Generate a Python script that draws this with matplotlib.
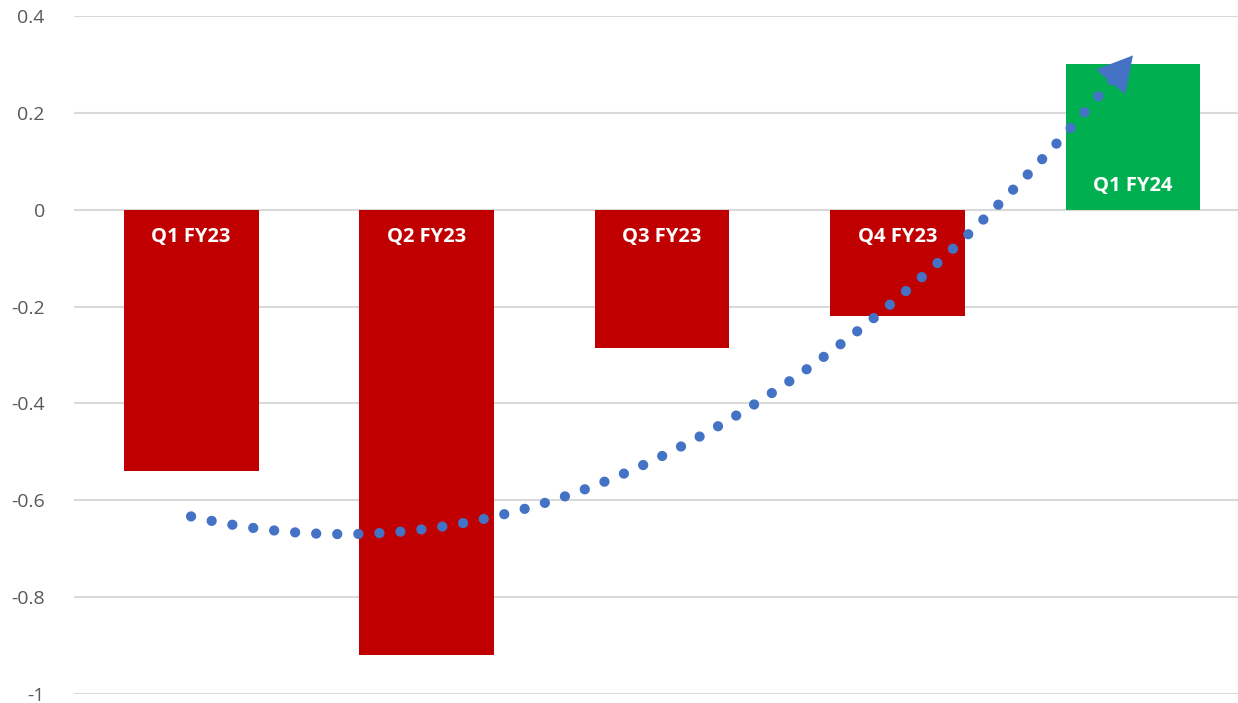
"""
Quarterly result bars with a quadratic trend arrow.
"""

import numpy as np
import matplotlib

matplotlib.use("Agg")
import matplotlib.pyplot as plt
from matplotlib.patches import FancyArrowPatch

quarters = ["Q1 FY23", "Q2 FY23", "Q3 FY23", "Q4 FY23", "Q1 FY24"]
values = [-0.54, -0.92, -0.285, -0.22, 0.30]
y_ticks = [-1, -0.8, -0.6, -0.4, -0.2, 0, 0.2, 0.4]
y_tick_labels = ["-1", "-0.8", "-0.6", "-0.4", "-0.2", "0", "0.2", "0.4"]

RED = "#C00000"
GREEN = "#00B050"
BLUE = "#4472C4"

plt.rcParams["font.family"] = ["Open Sans", "DejaVu Sans"]

fig = plt.figure(figsize=(12.38, 7.03), dpi=100)
ax = fig.add_axes([0.0598, 0.0128, 0.9402, 0.9644])

x = np.arange(len(quarters))
colors = [GREEN if v > 0 else RED for v in values]
ax.bar(x, values, width=0.573, color=colors, zorder=2)

# labels sit just inside the base of each bar
for xi, v, name in zip(x, values, quarters):
    off = -0.057 if v < 0 else 0.05
    ax.text(xi, off, name, ha="center", va="center", color="white",
            fontsize=14.5, fontweight="bold", zorder=3)

# second order trendline through the bar values
coef = np.polyfit(x, values, 2)
xs = np.linspace(0, 3.93, 400)
ax.plot(xs, np.polyval(coef, xs), color=BLUE, lw=7.4,
        linestyle=(0, (0.001, 2.05)), dash_capstyle="round", zorder=4)

head = FancyArrowPatch((3.85, np.polyval(coef, 3.85)), (4.0, np.polyval(coef, 4.0)),
                       arrowstyle="-|>,head_length=1.0,head_width=0.55",
                       mutation_scale=25, shrinkA=0, shrinkB=0,
                       color=BLUE, lw=0, zorder=5)
ax.add_patch(head)

ax.set_xlim(-0.497, 4.446)
ax.set_ylim(-1, 0.4)
ax.set_yticks(y_ticks)
ax.set_yticklabels(y_tick_labels)
ax.set_xticks([])
ax.tick_params(axis="y", length=0, pad=21, labelsize=14, labelcolor="#595959")
ax.yaxis.grid(True, color="#D9D9D9", lw=1.5, zorder=0)
ax.set_axisbelow(True)
for s in ax.spines.values():
    s.set_visible(False)

fig.savefig("out.png", dpi=100)
